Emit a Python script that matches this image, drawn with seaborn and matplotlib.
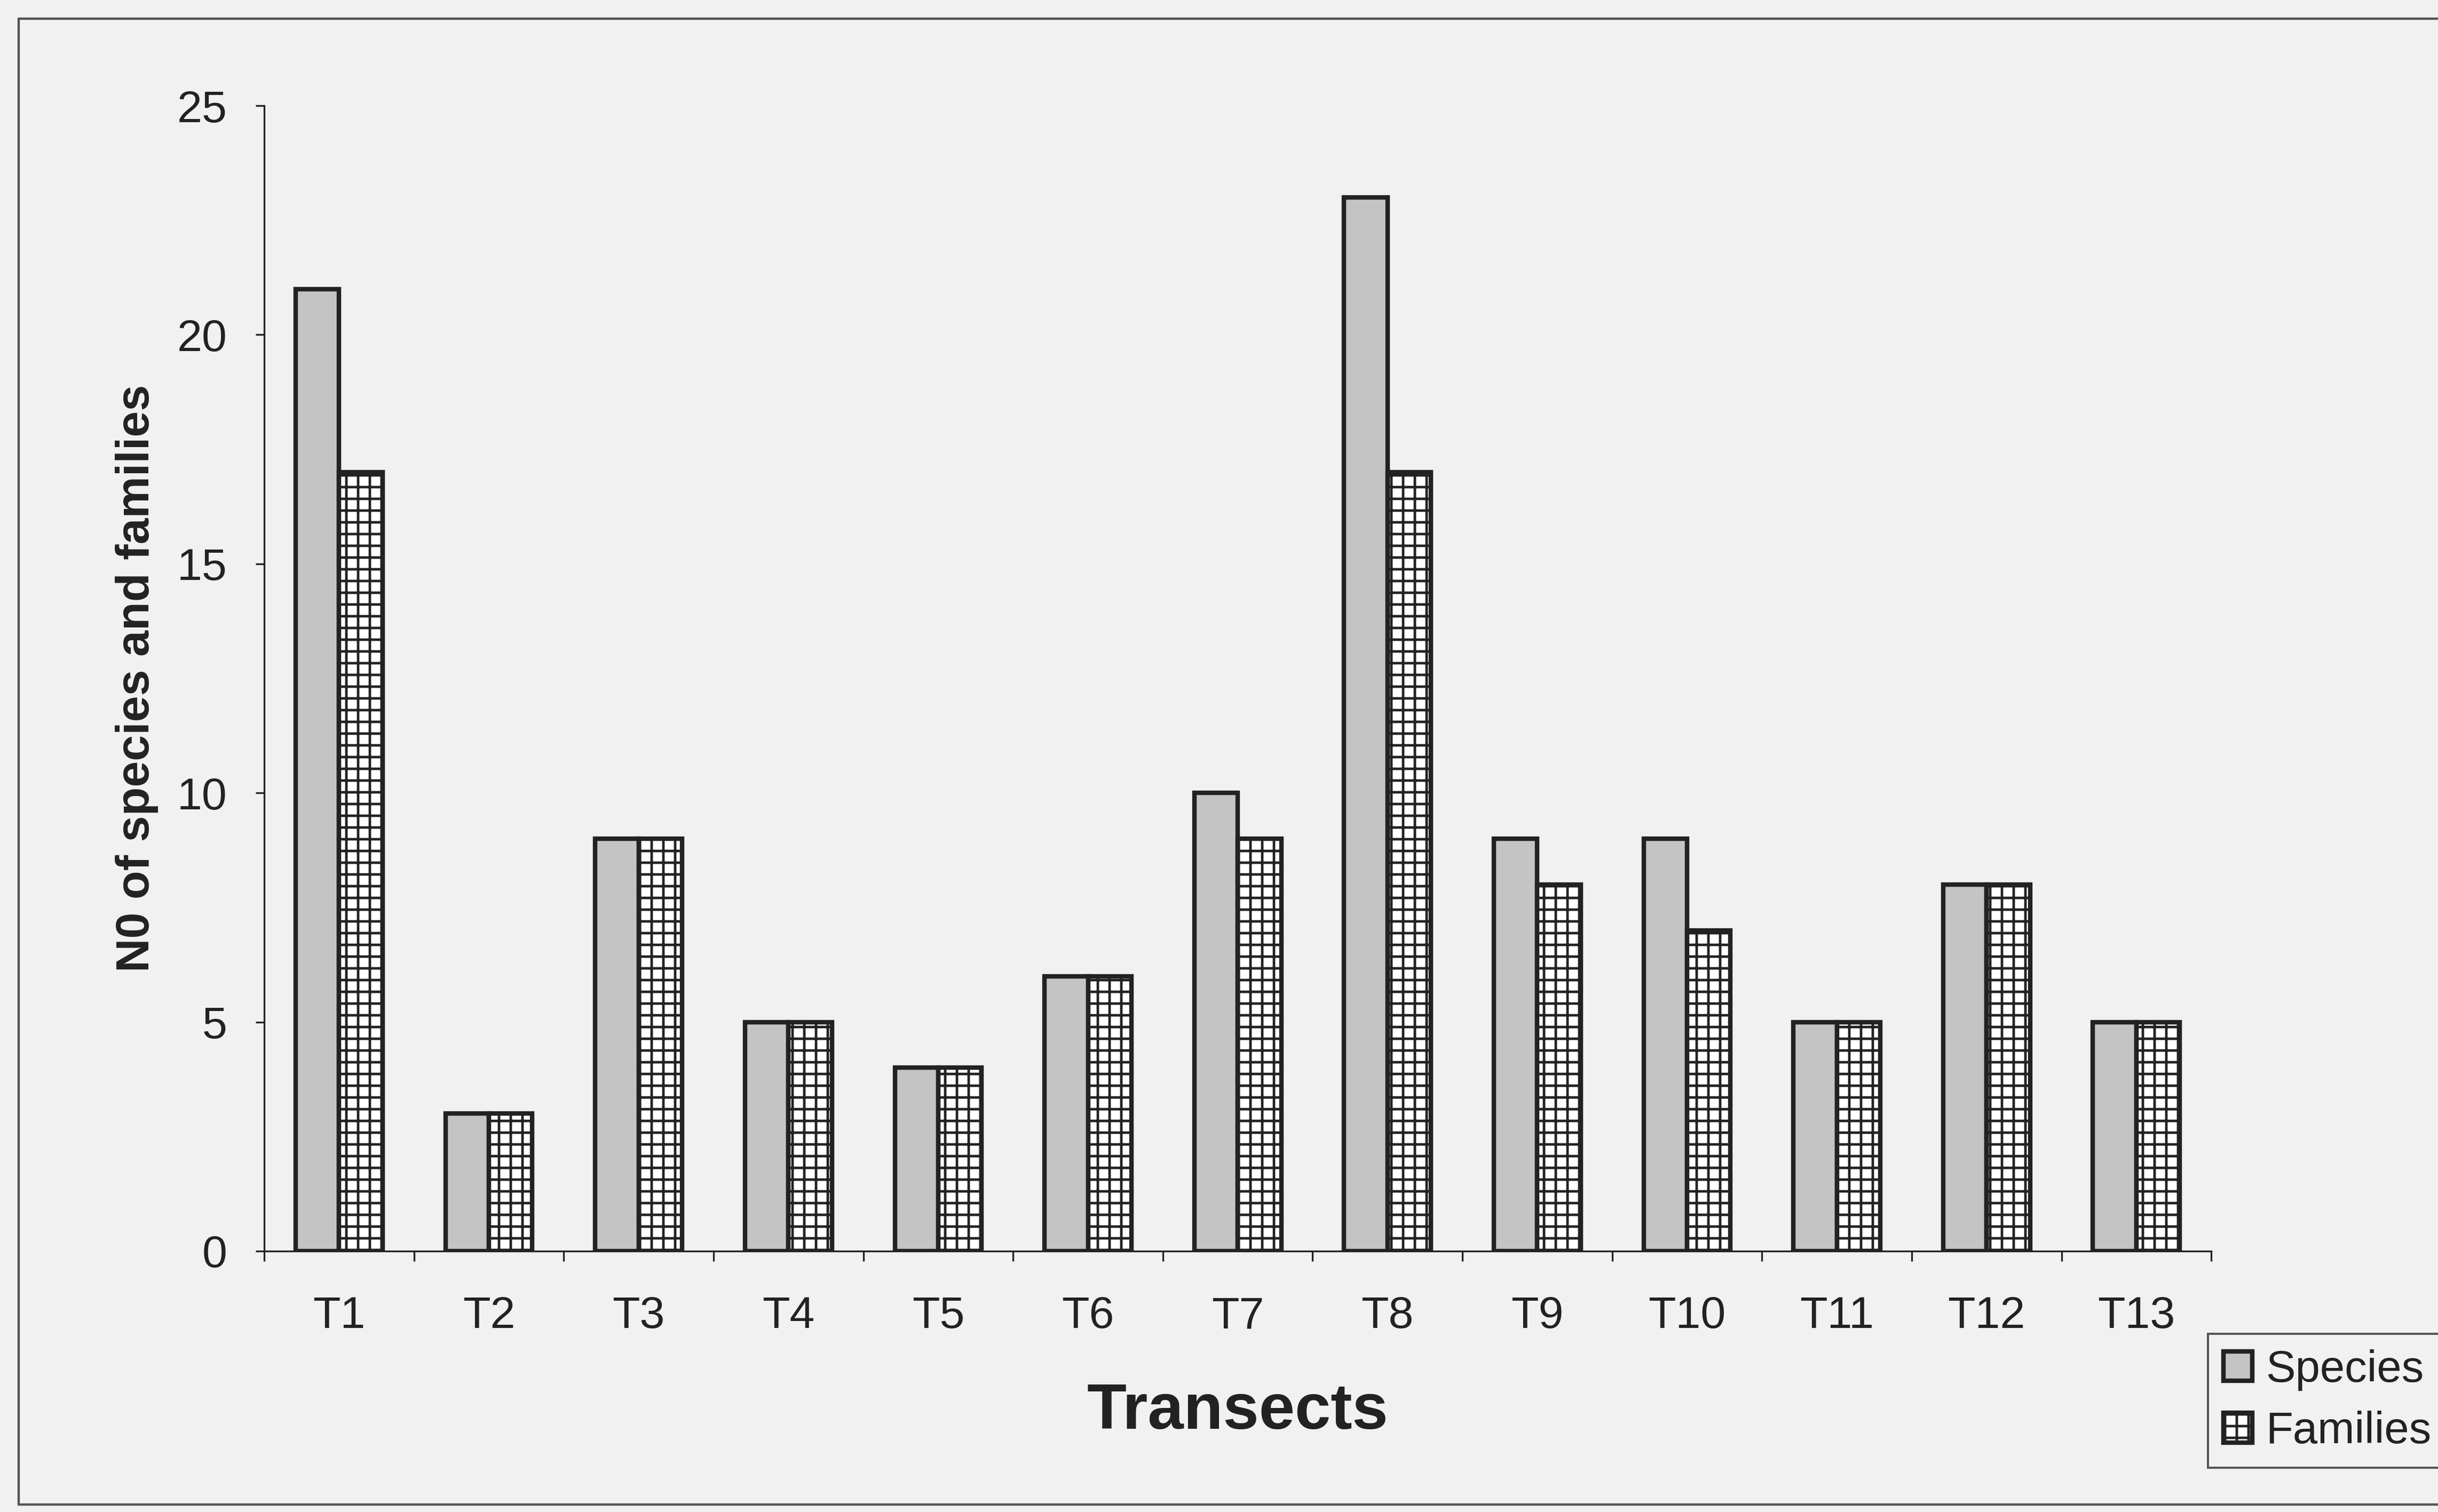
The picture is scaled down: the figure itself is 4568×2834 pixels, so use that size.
import numpy as np
import pandas as pd
import matplotlib
matplotlib.use("Agg")
import matplotlib.pyplot as plt
from matplotlib.patches import Patch
from matplotlib.lines import Line2D
import seaborn as sns

# Number of species and families recorded per transect
transects = ["T1", "T2", "T3", "T4", "T5", "T6", "T7",
             "T8", "T9", "T10", "T11", "T12", "T13"]
species = [21, 3, 9, 5, 4, 6, 10, 23, 9, 9, 5, 8, 5]
families = [17, 3, 9, 5, 4, 6, 9, 17, 8, 7, 5, 8, 5]
series_names = ["Species", "Families"]
y_ticks = [0, 5, 10, 15, 20, 25]

df = pd.DataFrame({
    "Transect": transects * 2,
    "Count": species + families,
    "Series": [series_names[0]] * len(transects) + [series_names[1]] * len(transects),
})

sns.set_theme(style="white")
plt.rcParams["font.family"] = ["Liberation Sans", "DejaVu Sans"]
plt.rcParams["hatch.linewidth"] = 1.3

DPI = 264
ink = "#222222"
paper = "#f1f1f1"
fills = {"Species": "#c4c4c4", "Families": "#ffffff"}
edge_lw = 2.3

fig = plt.figure(figsize=(4568 / DPI, 2834 / DPI), dpi=DPI, facecolor=paper)
ax = fig.add_axes([0.1084, 0.1726, 0.7986, 0.7575])
ax.set_facecolor("none")

sns.barplot(data=df, x="Transect", y="Count", hue="Series",
            order=transects, hue_order=series_names, palette=fills,
            width=0.58, edgecolor=ink, linewidth=edge_lw, saturation=1,
            legend=False, ax=ax)
for bar in ax.containers[1]:
    bar.set_hatch("++")

ax.set_xlim(-0.5, len(transects) - 0.5)
ax.set_ylim(0, 25)
ax.set_yticks(y_ticks)

for side in ("top", "right"):
    ax.spines[side].set_visible(False)
for side in ("left", "bottom"):
    ax.spines[side].set_color(ink)
    ax.spines[side].set_linewidth(0.9)

# Category boundary ticks on the x axis, labels centred between them
ax.set_xticks(np.arange(-0.5, len(transects), 1.0), minor=True)
ax.tick_params(axis="x", which="major", bottom=True, length=0, pad=22.7,
               labelsize=23, labelcolor=ink)
ax.tick_params(axis="x", which="minor", bottom=True, direction="out",
               length=5.3, width=0.9, color=ink)
ax.tick_params(axis="y", left=True, direction="out", length=4.5, width=0.9,
               color=ink, pad=14.4, labelsize=23, labelcolor=ink)

ax.set_ylabel("N0 of species and families", fontsize=24,
              fontweight="bold", color=ink, labelpad=9.5)
ax.set_xlabel("Transects", fontsize=33, fontweight="bold", color=ink, labelpad=23)

handles = [
    Patch(facecolor=fills["Species"], edgecolor=ink, linewidth=edge_lw),
    Patch(facecolor=fills["Families"], edgecolor=ink, linewidth=edge_lw, hatch="++"),
]
leg = fig.legend(handles, series_names, loc="upper left",
                 bbox_to_anchor=(0.9057, 0.118), bbox_transform=fig.transFigure,
                 fontsize=22.7, frameon=True, fancybox=False, framealpha=1,
                 handlelength=0.65, handleheight=0.65, handletextpad=0.3,
                 borderpad=0.35, labelspacing=0.45, borderaxespad=0)
leg.get_frame().set_edgecolor("#555555")
leg.get_frame().set_linewidth(1.1)
leg.get_frame().set_facecolor(paper)
for t in leg.get_texts():
    t.set_color(ink)

# Outer frame around the chart
frame_kw = dict(transform=fig.transFigure, color="#555555", linewidth=1.2)
fig.add_artist(Line2D([0.0077, 1.0], [0.9877, 0.9877], **frame_kw))
fig.add_artist(Line2D([0.0077, 0.0077], [0.005, 0.9877], **frame_kw))
fig.add_artist(Line2D([0.0077, 1.0], [0.005, 0.005], **frame_kw))

fig.savefig("out.png", dpi=DPI, facecolor=paper)
